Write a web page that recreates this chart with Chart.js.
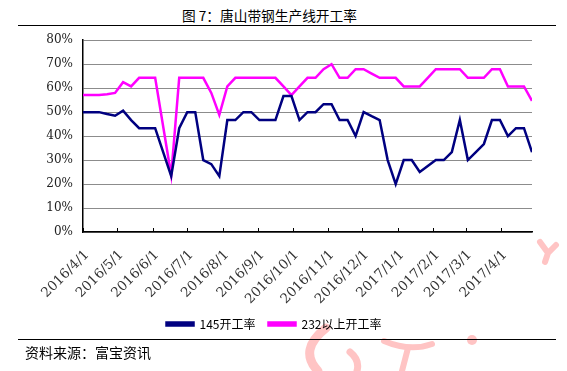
<!DOCTYPE html>
<html>
<head>
<meta charset="utf-8">
<script src="https://cdn.jsdelivr.net/npm/chart.js@4.4.0/dist/chart.umd.min.js"></script>
<style>
body{margin:0;background:#fff;width:567px;height:371px;position:relative;overflow:hidden;font-family:"Noto Sans CJK SC",sans-serif;color:#000;}
#title{position:absolute;left:182px;top:6px;font-size:13.7px;line-height:18px;white-space:nowrap;}
.rule{position:absolute;left:18px;width:538px;height:0;border-top:1.5px solid #000;}
#wrap{position:absolute;left:0;top:23px;width:548px;height:317px;}
#src{position:absolute;left:25px;top:343px;font-size:14px;line-height:18px;}
#mark{position:absolute;left:0;top:0;}
</style>
</head>
<body>
<svg id="mark" width="567" height="371">
  <g fill="none" stroke="#ffc4c4" stroke-linecap="round">
    <path d="M326 328 Q298 350 318 371" stroke-width="9"/>
    <path d="M350 352 Q360 360 357 371" stroke-width="7"/>
    <path d="M384 341 Q410 352 432 344" stroke-width="6"/>
    <path d="M408 348 L402 371" stroke-width="6"/>
    <path d="M540 242 L548 253 L556 245 M548 253 L545 262" stroke-width="6"/>
  </g>
  <circle cx="472" cy="340" r="5" fill="#ffc4c4"/>
</svg>
<div id="title">图 7：唐山带钢生产线开工率</div>
<div class="rule" style="top:25px"></div>
<div id="wrap"><canvas id="myChart"></canvas></div>
<div class="rule" style="top:339px"></div>
<div id="src">资料来源：富宝资讯</div>
<script>
// weekly dates
const dates = ['2016/4/1','2016/4/8','2016/4/15','2016/4/22','2016/4/29','2016/5/6','2016/5/13','2016/5/20','2016/5/27',
  '2016/6/3','2016/6/10','2016/6/17','2016/6/24','2016/7/1','2016/7/8','2016/7/15','2016/7/22','2016/7/29',
  '2016/8/5','2016/8/12','2016/8/19','2016/8/26','2016/9/2','2016/9/9','2016/9/16','2016/9/23','2016/9/30',
  '2016/10/7','2016/10/14','2016/10/21','2016/10/28','2016/11/4','2016/11/11','2016/11/18','2016/11/25',
  '2016/12/2','2016/12/9','2016/12/16','2016/12/23','2016/12/30','2017/1/6','2017/1/13','2017/1/20','2017/1/27',
  '2017/2/3','2017/2/10','2017/2/17','2017/2/24','2017/3/3','2017/3/10','2017/3/17','2017/3/24','2017/3/31',
  '2017/4/7','2017/4/14','2017/4/21','2017/4/28'];

const tickDates = ['2016/4/1','2016/5/1','2016/6/1','2016/7/1','2016/8/1','2016/9/1','2016/10/1',
  '2016/11/1','2016/12/1','2017/1/1','2017/2/1','2017/3/1','2017/4/1'];

// 145 line rate (%)
const rate145 = [50,50,50,49.2,48.5,50.6,46.7,43.3,43.3,43.3,33.3,23.3,43.3,50,50,30,28.3,23.3,46.7,46.7,
  50,50,46.7,46.7,46.7,56.7,56.7,46.7,50,50,53.3,53.3,46.7,46.7,40,50,48.3,46.7,30,20,
  30,30,25,27.5,30,30,33.3,46.7,30,33.3,36.7,46.7,46.7,40,43.3,43.3,33.3];

// 232 and above rate (%)
const rate232 = [57.1,57.1,57.1,57.5,58,62.5,60.7,64.3,64.3,64.3,44,23.7,64.3,64.3,64.3,64.3,58,48.8,60.7,64.3,
  64.3,64.3,64.3,64.3,64.3,60.7,57.1,60.7,64.3,64.3,67.9,70,64.3,64.3,67.9,67.9,66.1,64.3,64.3,64.3,
  60.7,60.7,60.7,64.3,67.9,67.9,67.9,67.9,64.3,64.3,64.3,67.9,67.9,60.7,60.7,60.7,54.7];

const day0 = Date.UTC(2016, 3, 1);
function toDay(s){
  const p = s.split('/');
  return (Date.UTC(+p[0], +p[1]-1, +p[2]) - day0) / 86400000;
}

const tickFont = {family: '"DejaVu Serif", serif', size: 12};

// Excel style tick marks pointing into the plot
const innerTicks = {
  id: 'innerTicks',
  beforeDatasetsDraw(chart){
    const x = chart.scales.x, ctx = chart.ctx;
    ctx.save();
    ctx.strokeStyle = '#000';
    ctx.lineWidth = 1;
    x.ticks.forEach(t => {
      const px = Math.round(x.getPixelForValue(t.value)) + 0.5;
      ctx.beginPath();
      ctx.moveTo(px, x.top);
      ctx.lineTo(px, x.top - 4);
      ctx.stroke();
    });
    ctx.restore();
  }
};

const data = {
  datasets: [{
    label: '145开工率',
    data: dates.map((d, i) => ({x: toDay(d), y: rate145[i]})),
    borderColor: '#000080',
    backgroundColor: '#000080',
    borderWidth: 2.5,
    pointRadius: 0,
    tension: 0
  }, {
    label: '232以上开工率',
    data: dates.map((d, i) => ({x: toDay(d), y: rate232[i]})),
    borderColor: '#ff00ff',
    backgroundColor: '#ff00ff',
    borderWidth: 2.5,
    pointRadius: 0,
    tension: 0
  }]
};

const config = {
  type: 'line',
  data: data,
  plugins: [innerTicks],
  options: {
    responsive: true,
    maintainAspectRatio: false,
    animation: false,
    layout: {padding: {left: 16, right: 16, top: 6, bottom: 0}},
    scales: {
      x: {
        type: 'linear',
        min: 0,
        max: toDay(dates[dates.length - 1]),
        afterBuildTicks(s){ s.ticks = tickDates.map(d => ({value: toDay(d)})); },
        afterFit(s){ s.height = 73; },
        grid: {drawOnChartArea: false, drawTicks: false},
        border: {color: '#000', width: 1.5},
        ticks: {
          autoSkip: false,
          minRotation: 45,
          maxRotation: 45,
          padding: 15,
          labelOffset: 4,
          color: '#333',
          font: {family: '"DejaVu Serif", serif', size: 13.5},
          callback(v){ const i = tickDates.findIndex(d => toDay(d) === v); return i >= 0 ? tickDates[i] : ''; }
        }
      },
      y: {
        min: 0,
        max: 80,
        afterFit(s){ s.width = 67; },
        grid: {color: '#8c8c8c', lineWidth: 1, drawTicks: false},
        border: {color: '#000', width: 1.5},
        ticks: {
          stepSize: 10,
          padding: 10,
          color: '#222',
          font: tickFont,
          callback(v){ return v + '%'; }
        }
      }
    },
    plugins: {
      tooltip: {enabled: false},
      legend: {
        position: 'bottom',
        labels: {
          boxWidth: 27,
          boxHeight: 3,
          padding: 13,
          color: '#000',
          font: {family: '"Noto Sans CJK SC", sans-serif', size: 12}
        }
      }
    }
  }
};

let lineChart = document.getElementById('myChart');
var myChart = new Chart(lineChart, config);
</script>
</body>
</html>
